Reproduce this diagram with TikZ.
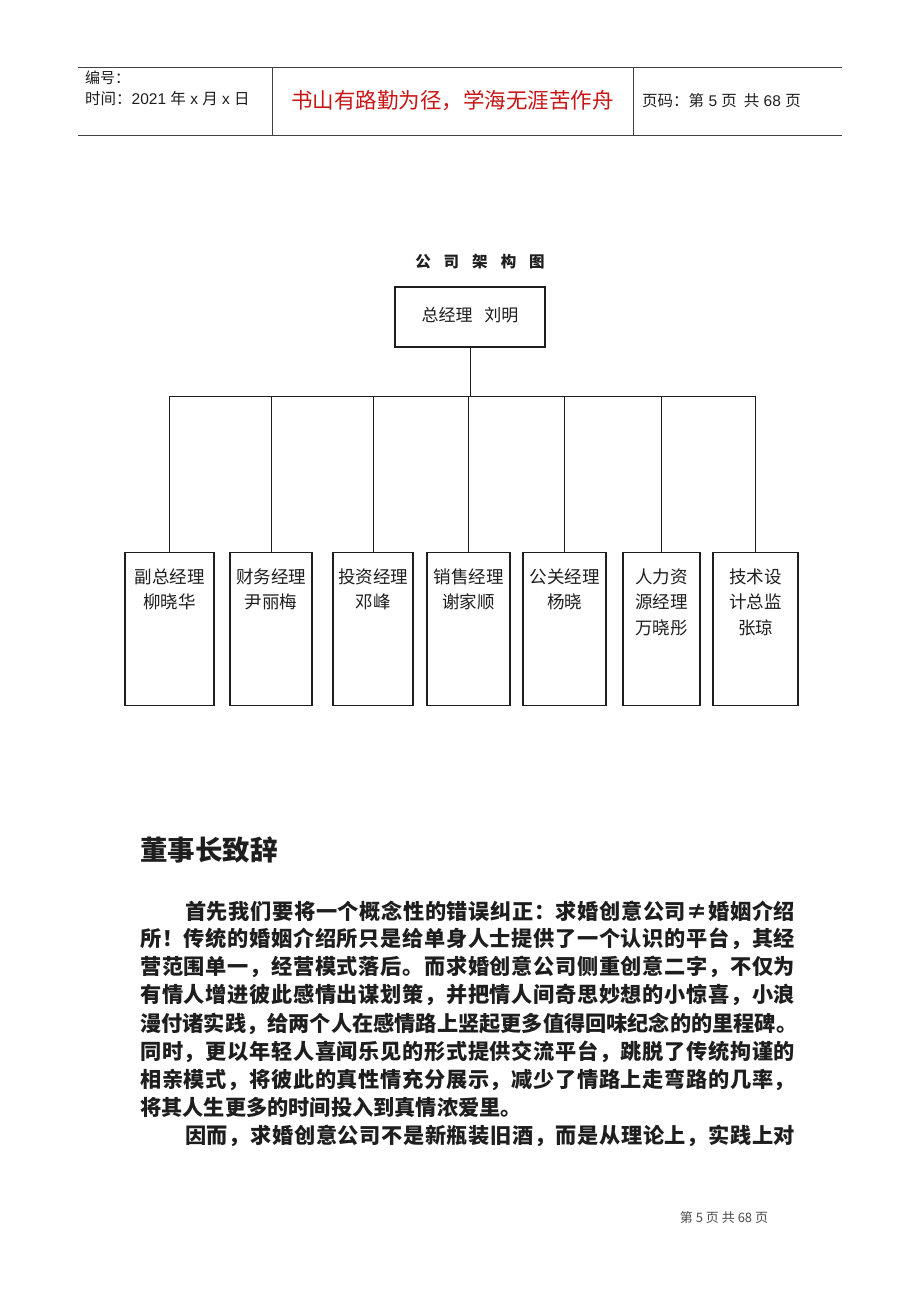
\documentclass[tikz,border=0pt]{standalone}
\usepackage{fontspec}
\setmainfont{Noto Sans CJK SC}
\newfontfamily\lat{Liberation Sans}
\definecolor{motto}{RGB}{200,22,22}
\definecolor{ink}{RGB}{30,30,30}
\newcommand{\unittext}[2]{\parbox[t][153pt][t]{#1pt}{\centering\vspace*{16pt}#2}}
\newcommand{\spreadend}{}
\def\spreadloop#1{\ifx#1\spreadend\unskip\else#1\hfill\expandafter\spreadloop\fi}
\newcommand{\spreadline}[2]{\hbox to #1{\expandafter\spreadloop#2\spreadend}}
\begin{document}
\begin{tikzpicture}[x=1pt,y=-1pt,
    rule/.style={line width=0.9pt, black!75},
    link/.style={line width=1pt, ink},
    lbl/.style={anchor=west, inner sep=0pt, text=ink},
    unit/.style={draw=ink, line width=1.1pt, anchor=north, inner sep=0pt,
      minimum height=153pt, text=ink, font=\fontsize{17.5}{25.5}\selectfont},
    textline/.style={lbl, font=\bfseries\fontsize{21.2}{24}\selectfont}]
  \useasboundingbox[fill=white] (0,0) rectangle (920,1302);

  \draw[rule] (78,67) -- (842,67) (78,135) -- (842,135)
              (272,67) -- (272,135) (633,67) -- (633,135);
  \node[lbl, font=\fontsize{15}{16}\selectfont] (serial) at (85,78) {编号：};
  \node[lbl, font=\fontsize{15.5}{16}\selectfont] (date) at (85,99)
       {时间：{\lat 2021 }年{\lat\ x }月{\lat\ x }日};
  \node[inner sep=0pt, text=motto, font=\fontsize{21.5}{24}\selectfont] (motto) at (452.5,101)
       {书山有路勤为径，学海无涯苦作舟};
  \node[lbl, font=\fontsize{15.5}{16}\selectfont] (pageno) at (642,101)
       {页码：第{\lat\ 5 }页\hspace{7pt}共{\lat\ 68 }页};

  \node[inner sep=0pt, text=ink, font=\bfseries\fontsize{15.5}{18}\selectfont] (title) at (480,262)
       {公\hspace{13pt}司\hspace{13pt}架\hspace{13pt}构\hspace{13pt}图};
  \node[draw=ink, line width=1.1pt, minimum width=150pt, minimum height=60pt, text=ink,
        font=\fontsize{17}{20}\selectfont] (ceo) at (470,317) {\raisebox{5pt}{总经理\hspace{12pt}刘明}};

  \foreach \cx/\w/\txt [count=\i] in {169.5/89/{副总经理\\柳晓华}, 271/82/{财务经理\\尹丽梅},
      373/80/{投资经理\\邓峰}, 468.5/83/{销售经理\\谢家顺}, 564.5/83/{公关经理\\杨晓},
      661.5/77/{人力资\\源经理\\万晓彤}, 755.5/85/{技术设\\计总监\\张琼}}
    \node[unit, minimum width=\w pt] (b\i) at (\cx,552) {\unittext{\w}{\txt}};

  \foreach \i in {1,...,7}
    \draw[link] (ceo.south) |- ++(0,49) -| (b\i.north);

  \node[lbl, font=\bfseries\fontsize{27.5}{30}\selectfont] (heading) at (140,850) {董事长致辞};

  \foreach \k/\ind/\txt in {1/45/首先我们要将一个概念性的错误纠正：求婚创意公司≠婚姻介绍,
      2/0/所！传统的婚姻介绍所只是给单身人士提供了一个认识的平台，其经,
      3/0/营范围单一，经营模式落后。而求婚创意公司侧重创意二字，不仅为,
      4/0/有情人增进彼此感情出谋划策，并把情人间奇思妙想的小惊喜，小浪,
      5/0/漫付诸实践，给两个人在感情路上竖起更多值得回味纪念的的里程碑。,
      6/0/同时，更以年轻人喜闻乐见的形式提供交流平台，跳脱了传统拘谨的,
      7/0/相亲模式，将彼此的真性情充分展示，减少了情路上走弯路的几率，,
      9/45/因而，求婚创意公司不是新瓶装旧酒，而是从理论上，实践上对}
    \node[textline] (line\k) at (140+\ind, 911+28.1*\k-28.1)
         {\spreadline{\dimexpr655pt-\ind pt\relax}{\txt}};
  \node[textline] (line8) at (140, 1107.7) {将其人生更多的时间投入到真情浓爱里。};

  \node[inner sep=0pt, text=black!70, font=\fontsize{13}{15}\selectfont] (footer) at (724,1218)
       {第 5 页 共 68 页};
\end{tikzpicture}
\end{document}
